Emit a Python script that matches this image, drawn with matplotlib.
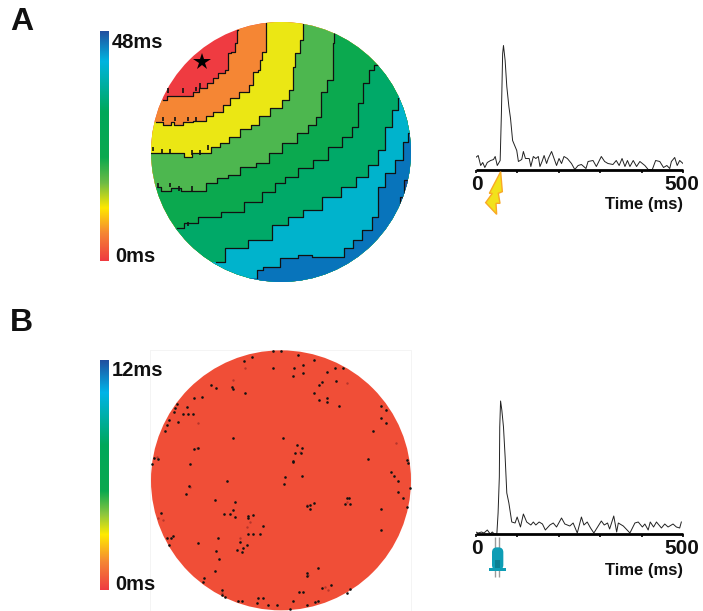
import numpy as np
import matplotlib
matplotlib.use("Agg")
import matplotlib.pyplot as plt
from matplotlib.colors import LinearSegmentedColormap
from matplotlib.patches import Circle, Polygon, Rectangle, FancyBboxPatch

plt.rcParams['font.family'] = ['Liberation Sans', 'DejaVu Sans']

W, H = 703, 611

# Trace values: time (ms) and response height
temps_a = [0, 6, 12, 17, 22, 28, 36, 43, 47, 52, 59, 62, 65, 67, 71, 75, 80, 84, 89, 95, 99, 103, 111, 115, 120,
           129, 133, 139, 145, 151, 155, 160, 165, 171, 175, 183, 189, 195, 201, 207, 213, 221, 231, 239, 247,
           255, 266, 271, 283, 291, 303, 311, 319, 331, 339, 346, 353, 360, 366, 372, 380, 388, 396, 408, 416,
           426, 434, 444, 453, 461, 468, 472, 480, 486, 492, 500]
valors_a = [12, 14, 4, 7, 2, 7, 9, 10, 13, 4, 9, 56, 116, 124, 109, 83, 63, 51, 29, 23, 19, 8, 10, 18, 11,
            11, 3, 13, 11, 13, 3, 8, 14, 6, 11, 18, 11, 4, 11, 6, 13, 11, 6, 0, 4,
            5, 1, 8, 9, 3, 13, 8, 6, 5, 9, 4, 11, 3, 9, 3, 9, 3, 8, 4, 0,
            0, 9, 8, 2, 4, 1, 8, 12, 4, 9, 6]

temps_b = [0, 6, 14, 20, 28, 35, 40, 45, 51, 54, 57, 58, 60, 63, 67, 71, 75, 80, 87, 95, 100, 108, 115, 123, 133,
           139, 145, 153, 161, 168, 179, 187, 195, 207, 215, 227, 235, 245, 255, 261, 269, 277, 285, 303, 310,
           318, 323, 333, 340, 344, 356, 372, 384, 392, 402, 408, 416, 421, 429, 436, 448, 456, 464, 476, 484,
           492, 496]
valors_b = [2, 1, 2, 1, 4, 0, 2, 0, 0, 21, 57, 107, 133, 124, 107, 77, 41, 31, 12, 11, 17, 7, 20, 12, 9,
            12, 9, 12, 10, 4, 9, 11, 7, 16, 10, 8, 11, 1, 17, 9, 12, 6, 1, 13, 9,
            11, 5, 18, 2, 11, 8, 1, 11, 12, 7, 10, 4, 12, 7, 12, 6, 10, 7, 10, 7,
            6, 12]

ticks_temps = [0, 100, 200, 300, 400, 500]

# Latency map A: contour lines between the bands, in map coordinates
linia_1 = [(220, 270), (240, 258), (300, 258), (315, 245), (340, 235), (360, 220), (375, 205), (395, 190),
           (415, 180), (415, 130), (430, 125), (440, 100), (443, 60)]
linia_2 = [(197, 335), (218, 335), (222, 345), (242, 345), (246, 335), (256, 345), (276, 345), (280, 335),
           (340, 332), (355, 318), (385, 305), (410, 285), (430, 265), (465, 245), (490, 225), (490, 185),
           (515, 180), (505, 150), (525, 125), (528, 40)]
linia_3 = [(183, 430), (280, 430), (285, 442), (303, 442), (307, 430), (350, 428), (375, 412), (405, 400),
           (430, 380), (470, 358), (495, 345), (520, 318), (560, 295), (590, 270), (605, 240), (610, 170),
           (620, 130), (640, 90), (640, 40)]
linia_4 = [(205, 530), (220, 543), (265, 535), (280, 543), (330, 543), (365, 520), (395, 505), (430, 495),
           (470, 470), (525, 460), (550, 430), (600, 400), (640, 370), (665, 345), (690, 320), (695, 245),
           (725, 210), (730, 100), (735, 70)]
linia_5 = [(262, 655), (300, 640), (350, 620), (435, 605), (490, 575), (540, 545), (570, 520), (600, 500),
           (650, 475), (690, 450), (740, 410), (770, 380), (800, 350), (805, 280), (835, 220), (840, 180),
           (865, 165)]
linia_6 = [(378, 755), (430, 715), (520, 690), (570, 645), (615, 620), (660, 600), (730, 560), (775, 530),
           (820, 500), (850, 465), (880, 420), (890, 350), (920, 300), (925, 265)]
linia_7 = [(500, 805), (500, 780), (540, 770), (600, 745), (650, 735), (680, 740), (750, 740), (775, 715),
           (800, 690), (830, 660), (860, 620), (870, 530), (900, 490), (930, 450), (945, 395), (960, 370)]
linia_8 = [(930, 590), (930, 560), (955, 510), (963, 490)]

linies = [linia_1, linia_2, linia_3, linia_4, linia_5, linia_6, linia_7]
colors_bandes = ['#EF3B41', '#F58634', '#EBE714', '#4DB74F', '#0BA94F', '#00A968', '#00B3CC', '#0874BB']

# small spikes on the contour lines
espigues_x = [190, 215, 240, 305, 330, 353, 220, 255, 293, 318, 205, 240, 268, 305, 235, 280, 318, 330, 293]
espigues_y = [410, 418, 418, 420, 420, 405, 320, 320, 320, 320, 520, 518, 528, 528, 235, 235, 230, 220, 635]

# Black pixels on map B
punts_x = [625, 548, 572, 462, 487, 672, 613, 548, 640, 610, 638, 735, 758, 712, 695, 687, 738, 362, 377, 425,
           428, 465, 672, 688, 710, 710, 312, 335, 262, 255, 252, 292, 280, 295, 308, 873, 887, 873, 887, 748,
           238, 232, 225, 265, 848, 428, 578, 622, 635, 632, 615, 312, 325, 192, 205, 187, 300, 610, 610, 835,
           950, 955, 903, 912, 925, 635, 585, 582, 410, 298, 288, 375, 435, 770, 778, 765, 780, 672, 660, 650,
           660, 938, 960, 925, 950, 873, 428, 420, 403, 435, 473, 475, 490, 873, 520, 510, 488, 475, 213, 230,
           242, 250, 237, 325, 385, 450, 472, 460, 440, 455, 378, 387, 375, 650, 652, 685, 338, 342, 695, 722,
           628, 640, 780, 770, 395, 395, 405, 445, 455, 505, 520, 500, 535, 560, 610, 650, 675, 685, 600]
punts_y = [30, 18, 18, 48, 35, 45, 70, 70, 60, 92, 85, 70, 70, 82, 112, 120, 108, 120, 130, 125,
           133, 143, 143, 165, 158, 170, 160, 155, 178, 190, 200, 187, 207, 208, 208, 182, 195, 220, 233, 183,
           225, 240, 258, 232, 258, 280, 280, 300, 310, 325, 325, 312, 310, 340, 342, 358, 358, 347, 352, 342,
           345, 355, 382, 392, 407, 393, 395, 417, 408, 422, 448, 465, 470, 458, 458, 478, 478, 473, 480, 483,
           492, 458, 430, 440, 485, 493, 495, 508, 508, 517, 513, 520, 510, 555, 543, 567, 567, 567, 505, 580,
           580, 572, 600, 593, 580, 592, 600, 610, 615, 620, 617, 643, 678, 685, 692, 670, 710, 700, 730, 720,
           740, 740, 733, 745, 735, 750, 757, 768, 768, 760, 760, 775, 780, 780, 768, 780, 770, 768, 793]

# Fainter dark red pixels on map B
foscos_x = [430, 465, 325, 320, 200, 770, 918, 205, 220, 650, 770, 715, 705, 480, 450, 470, 395, 655, 300, 630]
foscos_y = [105, 70, 235, 310, 335, 115, 295, 520, 525, 480, 470, 735, 725, 530, 580, 545, 745, 690, 425, 320]

# Colour bar stops, from 0 ms upwards
colors_barra_a = [(0.0, '#EF3B41'), (0.12, '#F58634'), (0.23, '#FFE800'), (0.34, '#6DBB45'),
                  (0.45, '#0BA94F'), (0.65, '#00A85A'), (0.87, '#00B4E0'), (1.0, '#2150A0')]
colors_barra_b = [(0.0, '#EF3B41'), (0.12, '#F58634'), (0.24, '#FFEB00'), (0.33, '#8CC63F'),
                  (0.43, '#0BA94F'), (0.63, '#00A85A'), (0.86, '#00B4E8'), (1.0, '#2150A0')]


def eixos_crop(fig, x, y, ample, alt):
    # axes that cover a crop of the figure, 3 units for each pixel
    ax = fig.add_axes([x / W, 1 - (y + alt) / H, ample / W, alt / H])
    ax.set_xlim(0, ample * 3)
    ax.set_ylim(alt * 3, 0)
    ax.axis('off')
    ax.patch.set_alpha(0)
    return ax


def esglaons(punts):
    # stair path with the risers halfway between the points
    cami = [punts[0]]
    for (x0, y0), (x1, y1) in zip(punts[:-1], punts[1:]):
        xm = (x0 + x1) / 2
        cami.append((xm, y0))
        cami.append((xm, y1))
    cami.append(punts[-1])
    return cami


def barra_colors(ax, y0, y1, stops):
    cmap = LinearSegmentedColormap.from_list('barra', stops)
    grad = np.linspace(1, 0, 256).reshape(-1, 1)
    ax.imshow(grad, cmap=cmap, extent=[30, 57, y1, y0], aspect='auto', zorder=2)


def dibuixa_traca(fig, y_base, temps, valors):
    x0, x1 = 475.7, 683.0
    alt = 135
    ax = fig.add_axes([x0 / W, 1 - y_base / H, (x1 - x0) / W, alt / H])
    ax.plot(temps, valors, color='#222222', lw=0.7)
    ax.set_xlim(0, 500)
    ax.set_ylim(0, alt)
    ax.patch.set_alpha(0)
    for s in ['top', 'left', 'right']:
        ax.spines[s].set_visible(False)
    ax.spines['bottom'].set_linewidth(2.0)
    ax.spines['bottom'].set_capstyle('butt')
    ax.set_yticks([])
    ax.set_xticks(ticks_temps)
    ax.set_xticklabels([])
    ax.tick_params(axis='x', length=2, width=1.2, direction='out')
    return ax


fig = plt.figure(figsize=(W / 100, H / 100), dpi=100)

# ---- A: map ----
mapa_a = eixos_crop(fig, 90, 10, 340, 280)
centre_a = (573, 426)
cercle_a = Circle(centre_a, 390, transform=mapa_a.transData)
mapa_a.add_patch(Circle(centre_a, 390, color=colors_bandes[0], lw=0, zorder=1))

for i, linia in enumerate(linies):
    cami = esglaons(linia)
    ini, fi = cami[0], cami[-1]
    tancament = [(fi[0], -200), (1400, -200), (1400, 1200), (-200, 1200), (-200, ini[1])]
    banda = Polygon(cami + tancament, closed=True, facecolor=colors_bandes[i + 1], edgecolor='none', zorder=1 + i * 0.01 + 0.01)
    mapa_a.add_patch(banda)
    banda.set_clip_path(cercle_a)
    xs, ys = zip(*cami)
    l, = mapa_a.plot(xs, ys, color='#111111', lw=0.9, zorder=2)
    l.set_clip_path(cercle_a)

cami = esglaons(linia_8)
banda = Polygon(cami + [(1400, 490), (1400, 590)], closed=True, facecolor='#2150A0', edgecolor='none', zorder=1.5)
mapa_a.add_patch(banda)
banda.set_clip_path(cercle_a)
xs, ys = zip(*cami)
l, = mapa_a.plot(xs, ys, color='#111111', lw=0.9, zorder=2)
l.set_clip_path(cercle_a)

mapa_a.vlines(espigues_x, np.array(espigues_y), np.array(espigues_y) + 14, color='#111111', lw=1.2, zorder=2)
mapa_a.plot([335], [157], marker='*', color='black', ms=13, mew=0, zorder=3)
barra_colors(mapa_a, 65, 752, colors_barra_a)
mapa_a.set_xlim(0, 1020)
mapa_a.set_ylim(840, 0)

# ---- B: map ----
mapa_b = eixos_crop(fig, 90, 345, 340, 266)
mapa_b.add_patch(Rectangle((181, 16), 783, 790, fill=False, edgecolor='#F2F2F2', lw=0.6, zorder=0))
mapa_b.add_patch(Circle((573, 406), 390, color='#F04E37', lw=0, zorder=1))
mapa_b.scatter(foscos_x, foscos_y, s=3, color='#B5352A', marker='o', lw=0, zorder=2)
mapa_b.scatter(punts_x, punts_y, s=3.5, color='#111111', marker='o', lw=0, zorder=2)
barra_colors(mapa_b, 45, 735, colors_barra_b)
mapa_b.set_xlim(0, 1020)
mapa_b.set_ylim(798, 0)

# ---- traces ----
traca_a = dibuixa_traca(fig, 169.5, temps_a, valors_a)
traca_b = dibuixa_traca(fig, 534.0, temps_b, valors_b)

# ---- stimulus icons, on a layer with the crop coordinates of the traces ----
icona_a = eixos_crop(fig, 460, 30, 240, 200)
icona_a.add_patch(Polygon([(122, 425), (88, 490), (97, 490), (77, 518), (110, 553), (108, 520), (120, 520),
                           (115, 490), (127, 485)], closed=True, facecolor='#F2E21B', edgecolor='#F9A825', lw=1.0))

icona_b = eixos_crop(fig, 460, 390, 240, 200)
icona_b.vlines([105, 118], 440, 560, color='#9A9A9A', lw=1.0, zorder=1)
icona_b.add_patch(FancyBboxPatch((96, 472), 34, 68, boxstyle='round,pad=0,rounding_size=15',
                                 facecolor='#0E9DB5', edgecolor='none', zorder=2))
icona_b.add_patch(Rectangle((87, 533), 50, 10, facecolor='#0E9DB5', edgecolor='none', zorder=2))
icona_b.add_patch(Rectangle((105, 510), 14, 24, facecolor='#0B7F93', edgecolor='none', zorder=3))

# ---- text ----
def text_px(x, y, s, mida, **kw):
    fig.text(x / W, 1 - y / H, s, fontsize=mida, fontweight='bold', va='center', color='#111111', **kw)


text_px(10, 22, 'A', 23)
text_px(10, 323, 'B', 23)
text_px(112, 43, '48ms', 14.5)
text_px(115, 256, '0ms', 14.5)
text_px(112, 371, '12ms', 14.5)
text_px(115, 584, '0ms', 14.5)
text_px(471, 185, '0', 15)
text_px(682, 185, '500', 15, ha='center')
text_px(683, 205, 'Time (ms)', 12, ha='right')
text_px(471, 549, '0', 15)
text_px(682, 549, '500', 15, ha='center')
text_px(683, 570, 'Time (ms)', 12, ha='right')

fig.savefig('out.png', dpi=100)
